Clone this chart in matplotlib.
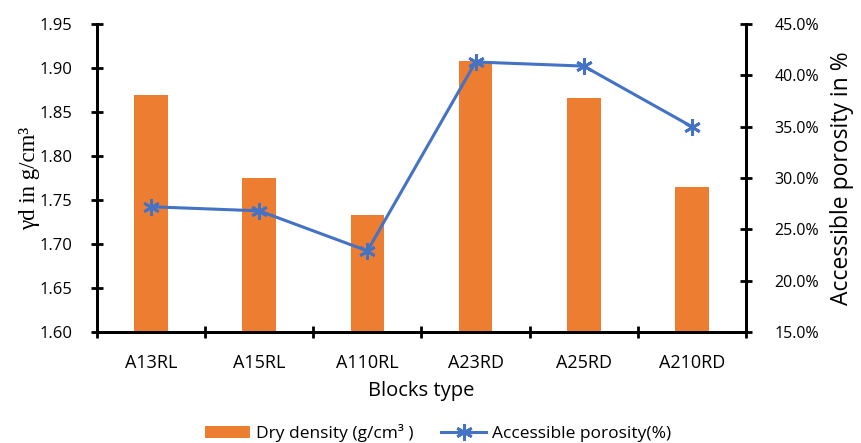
import matplotlib
matplotlib.use("Agg")
import matplotlib.pyplot as plt
from matplotlib.ticker import FuncFormatter
import numpy as np

blocks = ["A13RL", "A15RL", "A110RL", "A23RD", "A25RD", "A210RD"]
dry_density = [1.869, 1.775, 1.733, 1.908, 1.866, 1.765]
porosity = [27.2, 26.8, 22.9, 41.3, 40.9, 35.0]

orange = "#ED7D31"
blue = "#4472C4"
plt.rcParams["font.family"] = ["Open Sans", "DejaVu Sans"]

fig = plt.figure(figsize=(8.61, 4.43), dpi=100)
ax = fig.add_axes([97/861, 1-332/443, (746-97)/861, (332-24)/443])
x = np.arange(len(blocks))

bars = ax.bar(x, dry_density, width=0.31, color=orange, zorder=2)
ax.set_ylim(1.60, 1.95)
ax.set_yticks(np.arange(1.60, 1.951, 0.05))
ax.yaxis.set_major_formatter(FuncFormatter(lambda v, p: f"{v:.2f}"))
ax.set_xlim(-0.5, len(blocks) - 0.5)
ax.set_xticks(x)
ax.set_xticklabels(blocks)
ax.set_xticks(np.arange(-0.5, len(blocks), 1.0), minor=True)
ax.tick_params(axis="x", which="major", length=0, pad=16, labelsize=13)
ax.tick_params(axis="x", which="minor", direction="inout", length=9, width=2)
ax.tick_params(axis="y", direction="inout", length=9, width=2, labelsize=12, pad=13)
for s in ["left", "right", "bottom"]:
    ax.spines[s].set_linewidth(2)
ax.spines["top"].set_visible(False)
ax.set_xlabel("Blocks type", fontsize=14.5, labelpad=6)
ax.set_ylabel("γd in g/cm³", fontsize=16.5, family=["Liberation Serif", "DejaVu Serif"], labelpad=0)

ax2 = ax.twinx()
line, = ax2.plot(x, porosity, color=blue, linewidth=2.2, marker=(6, 2, 0),
                 markersize=12, markeredgewidth=2, zorder=3)
ax2.set_ylim(15, 45)
ax2.set_yticks(np.arange(15, 45.1, 5))
ax2.yaxis.set_major_formatter(FuncFormatter(lambda v, p: f"{v:.1f}%"))
ax2.tick_params(axis="y", direction="inout", length=9, width=2, labelsize=11.5, pad=16)
for s in ["left", "right", "bottom"]:
    ax2.spines[s].set_linewidth(2)
ax2.spines["top"].set_visible(False)
ax2.set_ylabel("Accessible porosity in %", fontsize=16.5, labelpad=8)

fig.legend([bars, line], ["Dry density (g/cm³ )", "Accessible porosity(%)"],
           loc="center", bbox_to_anchor=(438/861, 1-433/443), ncol=2,
           frameon=False, fontsize=12.5, handlelength=2.6, columnspacing=1.6,
           handletextpad=0.35, borderpad=0.1)

fig.savefig("out.png", dpi=100)
